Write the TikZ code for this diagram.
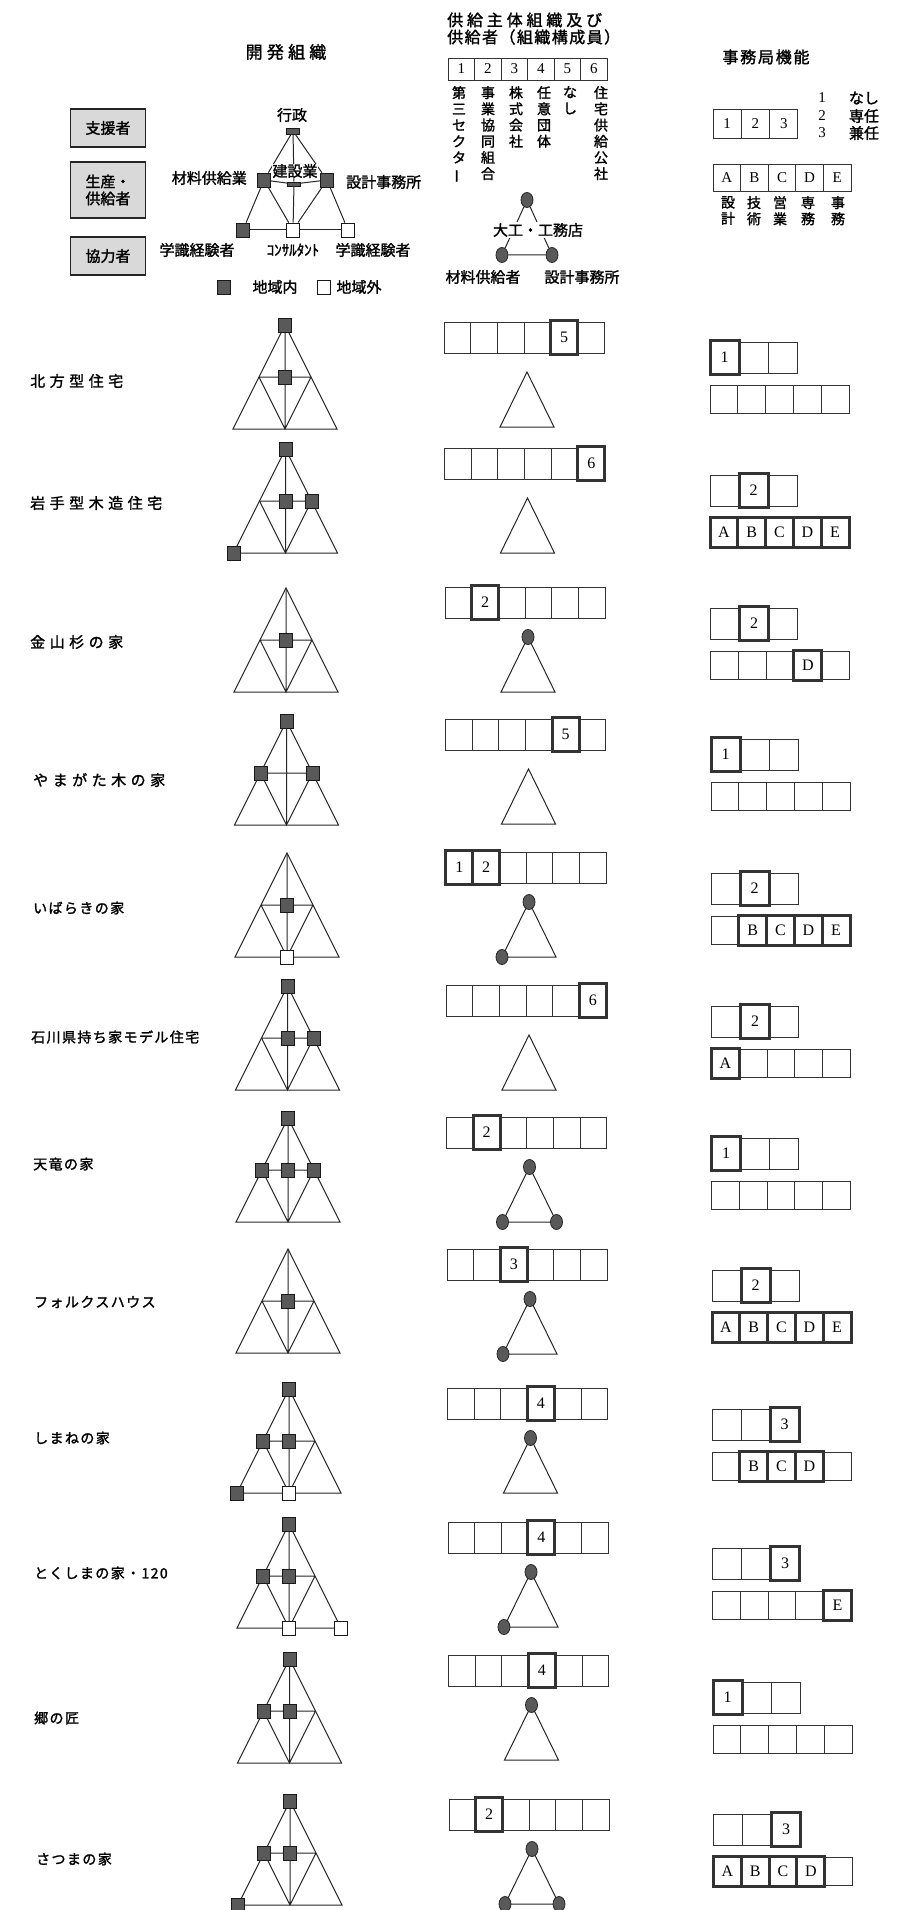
\documentclass[tikz,border=0pt]{standalone}
\usepackage{fontspec}
\usepackage{graphicx}
\setmainfont{Liberation Serif}
\newfontfamily\jp[FakeBold=1.6]{Noto Sans CJK JP}
\newfontfamily\jpsp[FakeBold=1.6, LetterSpace=10]{Noto Sans CJK JP}
\newfontfamily\jpwide[FakeBold=1.6, LetterSpace=30]{Noto Sans CJK JP}
\usetikzlibrary{shapes.geometric}

\tikzset{
  devline/.style={line width=1pt, draw=black!85},
  insq/.style={draw=black!90, line width=0.8pt, fill=black!65, minimum width=13pt, minimum height=14pt, inner sep=0pt},
  outsq/.style={insq, fill=white},
  dot/.style={ellipse, draw=black!85, line width=0.8pt, fill=black!65, minimum width=12pt, minimum height=15pt, inner sep=0pt},
  cellsix/.style={draw=black!80, line width=0.9pt, minimum width=26.7pt, minimum height=31pt, inner sep=0pt},
  cellthree/.style={cellsix, minimum width=29pt},
  cellfive/.style={cellsix, minimum width=27.8pt, minimum height=28pt},
  hlsix/.style={draw=black!80, line width=3pt, fill=white, minimum width=27pt, minimum height=34pt, inner sep=0pt, font=\fontsize{16}{16}\selectfont},
  hlthree/.style={hlsix, minimum width=29pt},
  hlfive/.style={hlsix, minimum width=27.8pt, minimum height=30pt},
  rowlabel/.style={anchor=west, inner sep=0pt, font=\jpsp\fontsize{14}{16}\selectfont},
  widelabel/.style={rowlabel, font=\jpwide\fontsize{15}{17}\selectfont},
  title/.style={inner sep=0pt, font=\jp\fontsize{16}{18}\selectfont},
  jtext/.style={inner sep=0pt, font=\jp\fontsize{15}{17}\selectfont},
  rolebox/.style={draw=black!85, line width=1.2pt, fill=black!15, minimum width=75pt, minimum height=38pt, align=center, font=\jp\fontsize{15}{17}\selectfont},
  vtext/.style={anchor=north, align=center, inner sep=0pt, font=\jp\fontsize{14}{16.2}\selectfont},
  cellhead/.style={draw=black!80, line width=0.9pt, minimum width=26.5pt, minimum height=22pt, inner sep=0pt, font=\fontsize{15}{15}\selectfont},
}

% development organisation triangle of one row
\newcommand{\devframe}[3]{%
  \coordinate (#1T) at (#2,#3);
  \coordinate (#1L) at (#2-26,#3+52);
  \coordinate (#1C) at (#2,#3+52);
  \coordinate (#1R) at (#2+26,#3+52);
  \coordinate (#1BL) at (#2-52,#3+104);
  \coordinate (#1BC) at (#2,#3+104);
  \coordinate (#1BR) at (#2+52,#3+104);
  \draw[devline] (#1T) -- (#1BL) -- (#1BR) -- cycle;
  \draw[devline] (#1L) -- (#1R) (#1T) -- (#1BC) (#1L) -- (#1BC) -- (#1R);
}
\newcommand{\insq}[2]{\node[insq] (#1#2q) at (#1#2) {};}
\newcommand{\outsq}[2]{\node[outsq] (#1#2q) at (#1#2) {};}

% supplier bar and small triangle
\newcommand{\supplier}[3]{%
  \foreach \k in {1,...,6}
    \node[cellsix] (#1s\k) at (#2+\k*26.7-13.35,#3+15.5) {};
  \coordinate (#1a) at (#2+83,#3+50);
  \coordinate (#1b) at (#2+56,#3+105);
  \coordinate (#1c) at (#2+110,#3+105);
  \draw[devline] (#1a) -- (#1b) -- (#1c) -- cycle;
}
\newcommand{\hlsix}[2]{\node[hlsix] (#1h#2) at (#1s#2) {#2};}
\newcommand{\dotat}[2]{\node[dot] (#1#2d) at (#1#2) {};}

% office bars
\newcommand{\office}[3]{%
  \foreach \k in {1,2,3}
    \node[cellthree] (#1f\k) at (#2+\k*29-14.5,#3+15.5) {};
  \foreach \k in {1,...,5}
    \node[cellfive] (#1g\k) at (#2+\k*27.8-13.9,#3+57) {};
}
\newcommand{\abcde}[1]{\ifcase#1\or A\or B\or C\or D\or E\fi}
\newcommand{\hlthree}[2]{\node[hlthree] (#1fh#2) at (#1f#2) {#2};}
\newcommand{\hlfive}[2]{\node[hlfive] (#1gh#2) at (#1g#2) {\abcde{#2}};}

\begin{document}
\begin{tikzpicture}[x=1pt, y=-1pt]
  \useasboundingbox (0,0) rectangle (897,1910);

  % column titles
  \node[title, font=\jp\addfontfeature{LetterSpace=25}\fontsize{17}{19}\selectfont] (devtitle) at (286,52) {開発組織};
  \node[title, anchor=west, font=\jp\addfontfeature{LetterSpace=24}\fontsize{16}{18}\selectfont] (suptitle) at (447,20) {供給主体組織及び};
  \node[title, anchor=west, font=\jp\addfontfeature{LetterSpace=9}\fontsize{16}{18}\selectfont] (suptitleb) at (447,37) {供給者（組織構成員）};
  \node[title, font=\jp\addfontfeature{LetterSpace=11}\fontsize{16}{18}\selectfont] (offtitle) at (766,57) {事務局機能};

  % legend: roles
  \node[rolebox] (support) at (108,128) {支援者};
  \node[rolebox, minimum height=56pt] (producer) at (108,190) {生産・\\供給者};
  \node[rolebox] (partner) at (108,256) {協力者};

  % legend: development organisation
  \node[insq, minimum width=13pt, minimum height=6pt] (gT) at (293,131) {};
  \node[insq] (gL) at (264,180) {};
  \node[insq] (gR) at (327,180) {};
  \node[insq, minimum width=13pt, minimum height=4pt] (gC) at (294,184) {};
  \node[insq] (gBL) at (243,230) {};
  \node[outsq] (gBC) at (293,230) {};
  \node[outsq] (gBR) at (348,230) {};
  \draw[devline] (gT) -- (gL) (gT) -- (gC) (gT) -- (gR);
  \draw[devline] (gL) -- (gC) -- (gR);
  \draw[devline] (gL) -- (gBL) (gL) -- (gBC) (gC) -- (gBC) (gR) -- (gBC) (gR) -- (gBR);
  \draw[devline] (gBL) -- (gBC) -- (gBR);
  \node[jtext] (gov) at (292,115) {行政};
  \node[jtext, fill=white, inner sep=0.5pt] (build) at (295,171) {建設業};
  \node[jtext, anchor=east] (matl) at (247,178) {材料供給業};
  \node[jtext, anchor=west] (design) at (346,182) {設計事務所};
  \node[jtext] (expl) at (197,250) {学識経験者};
  \node[jtext, font=\jp\fontsize{15}{15}\selectfont] (consult) at (293,250) {ｺﾝｻﾙﾀﾝﾄ};
  \node[jtext] (expr) at (373,250) {学識経験者};
  \node[insq] (keyin) at (224,287) {};
  \node[jtext] (keyintext) at (275,287) {地域内};
  \node[outsq] (keyout) at (324,287) {};
  \node[jtext] (keyouttext) at (359,287) {地域外};

  % legend: supplier type
  \foreach \k in {1,...,6}
    \node[cellhead] (hs\k) at (448+\k*26.5-13.25,69) {\k};
  \node[vtext] (v1) at (459,86) {第\\三\\セ\\ク\\タ\\\rotatebox[origin=c]{90}{ー}};
  \node[vtext] (v2) at (488,86) {事\\業\\協\\同\\組\\合};
  \node[vtext] (v3) at (516,86) {株\\式\\会\\社};
  \node[vtext] (v4) at (544,86) {任\\意\\団\\体};
  \node[vtext] (v5) at (570,86) {な\\し};
  \node[vtext] (v6) at (601,86) {住\\宅\\供\\給\\公\\社};
  \node[dot] (hcT) at (527,200) {};
  \node[dot] (hcL) at (502,255) {};
  \node[dot] (hcR) at (552,255) {};
  \draw[devline] (hcT) -- (hcL) (hcT) -- (hcR) (hcL) -- (hcR);
  \node[jtext, fill=white, inner sep=1pt] (carp) at (538,230) {大工・工務店};
  \node[jtext] (supmatl) at (483,277) {材料供給者};
  \node[jtext] (supdesign) at (582,277) {設計事務所};

  % legend: office function
  \foreach \k in {1,2,3}
    \node[cellthree, minimum width=28.3pt, minimum height=29pt, font=\fontsize{15}{15}\selectfont] (kf\k) at (713+\k*28.3-14.15,123.5) {\k};
  \node[font=\fontsize{15}{15}\selectfont] (kn1) at (822,98) {1};
  \node[font=\fontsize{15}{15}\selectfont] (kn2) at (822,116) {2};
  \node[font=\fontsize{15}{15}\selectfont] (kn3) at (822,133) {3};
  \node[jtext] (kt1) at (864,98) {なし};
  \node[jtext] (kt2) at (864,116) {専任};
  \node[jtext] (kt3) at (864,133) {兼任};
  \foreach \k in {1,...,5}
    \node[cellfive, minimum width=27.6pt, minimum height=27pt, font=\fontsize{15}{15}\selectfont] (kg\k) at (713+\k*27.6-13.8,177.5) {\abcde{\k}};
  \node[vtext] (kl1) at (728,196) {設\\計};
  \node[vtext] (kl2) at (754,196) {技\\術};
  \node[vtext] (kl3) at (780,196) {営\\業};
  \node[vtext] (kl4) at (808,196) {専\\務};
  \node[vtext] (kl5) at (838,196) {事\\務};

  % 北方型住宅
  \node[widelabel] (lab1) at (30,381) {北方型住宅};
  \devframe{d1}{285}{325}
  \insq{d1}{T} \insq{d1}{C}
  \supplier{p1}{444}{322}
  \hlsix{p1}{5}
  \office{o1}{710}{342}
  \hlthree{o1}{1}

  % 岩手型木造住宅
  \node[widelabel] (lab2) at (30,503) {岩手型木造住宅};
  \devframe{d2}{285.5}{449}
  \insq{d2}{T} \insq{d2}{C} \insq{d2}{R} \insq{d2}{BL}
  \supplier{p2}{444.5}{448}
  \hlsix{p2}{6}
  \office{o2}{710}{475}
  \hlthree{o2}{2}
  \foreach \k in {1,...,5} {\hlfive{o2}{\k}}

  % 金山杉の家
  \node[widelabel] (lab3) at (30,642) {金山杉の家};
  \devframe{d3}{286}{588}
  \insq{d3}{C}
  \supplier{p3}{445}{587}
  \hlsix{p3}{2}
  \dotat{p3}{a}
  \office{o3}{710.5}{608}
  \hlthree{o3}{2}
  \hlfive{o3}{4}

  % やまがた木の家
  \node[widelabel] (lab4) at (33,780) {やまがた木の家};
  \devframe{d4}{286.5}{721}
  \insq{d4}{T} \insq{d4}{L} \insq{d4}{R}
  \supplier{p4}{445.5}{719}
  \hlsix{p4}{5}
  \office{o4}{711}{739}
  \hlthree{o4}{1}

  % いばらきの家
  \node[rowlabel] (lab5) at (33,908) {いばらきの家};
  \devframe{d5}{287}{853}
  \insq{d5}{C} \outsq{d5}{BC}
  \supplier{p5}{446}{852}
  \hlsix{p5}{1} \hlsix{p5}{2}
  \dotat{p5}{a} \dotat{p5}{b}
  \office{o5}{711}{873}
  \hlthree{o5}{2}
  \foreach \k in {2,...,5} {\hlfive{o5}{\k}}

  % 石川県持ち家モデル住宅
  \node[rowlabel] (lab6) at (31,1037) {石川県持ち家モデル住宅};
  \devframe{d6}{287.5}{986}
  \insq{d6}{T} \insq{d6}{C} \insq{d6}{R}
  \supplier{p6}{446}{985}
  \hlsix{p6}{6}
  \office{o6}{711.5}{1006}
  \hlthree{o6}{2}
  \hlfive{o6}{1}

  % 天竜の家
  \node[rowlabel] (lab7) at (33,1164) {天竜の家};
  \devframe{d7}{288}{1118}
  \insq{d7}{T} \insq{d7}{L} \insq{d7}{C} \insq{d7}{R}
  \supplier{p7}{446.5}{1117}
  \hlsix{p7}{2}
  \dotat{p7}{a} \dotat{p7}{b} \dotat{p7}{c}
  \office{o7}{711.5}{1138}
  \hlthree{o7}{1}

  % フォルクスハウス
  \node[rowlabel] (lab8) at (34,1302) {フォルクスハウス};
  \devframe{d8}{288}{1249}
  \insq{d8}{C}
  \supplier{p8}{447}{1249}
  \hlsix{p8}{3}
  \dotat{p8}{a} \dotat{p8}{b}
  \office{o8}{712}{1270}
  \hlthree{o8}{2}
  \foreach \k in {1,...,5} {\hlfive{o8}{\k}}

  % しまねの家
  \node[rowlabel] (lab9) at (34,1438) {しまねの家};
  \devframe{d9}{289}{1389}
  \insq{d9}{T} \insq{d9}{L} \insq{d9}{C} \insq{d9}{BL} \outsq{d9}{BC}
  \supplier{p9}{447.5}{1388}
  \hlsix{p9}{4}
  \dotat{p9}{a}
  \office{o9}{712}{1409}
  \hlthree{o9}{3}
  \foreach \k in {2,3,4} {\hlfive{o9}{\k}}

  % とくしまの家・120
  \node[rowlabel] (lab10) at (34,1573) {とくしまの家・120};
  \devframe{d10}{289}{1524}
  \insq{d10}{T} \insq{d10}{L} \insq{d10}{C} \outsq{d10}{BC} \outsq{d10}{BR}
  \supplier{p10}{448}{1522}
  \hlsix{p10}{4}
  \dotat{p10}{a} \dotat{p10}{b}
  \office{o10}{712.5}{1548}
  \hlthree{o10}{3}
  \hlfive{o10}{5}

  % 郷の匠
  \node[rowlabel] (lab11) at (34,1718) {郷の匠};
  \devframe{d11}{289.5}{1659}
  \insq{d11}{T} \insq{d11}{L} \insq{d11}{C}
  \supplier{p11}{448.5}{1655}
  \hlsix{p11}{4}
  \dotat{p11}{a}
  \office{o11}{713}{1682}
  \hlthree{o11}{1}

  % さつまの家
  \node[rowlabel] (lab12) at (36,1859) {さつまの家};
  \devframe{d12}{290}{1801}
  \insq{d12}{T} \insq{d12}{L} \insq{d12}{C} \insq{d12}{BL}
  \supplier{p12}{449}{1799}
  \hlsix{p12}{2}
  \dotat{p12}{a} \dotat{p12}{b} \dotat{p12}{c}
  \office{o12}{713.5}{1814}
  \hlthree{o12}{3}
  \foreach \k in {1,...,4} {\hlfive{o12}{\k}}
\end{tikzpicture}
\end{document}
